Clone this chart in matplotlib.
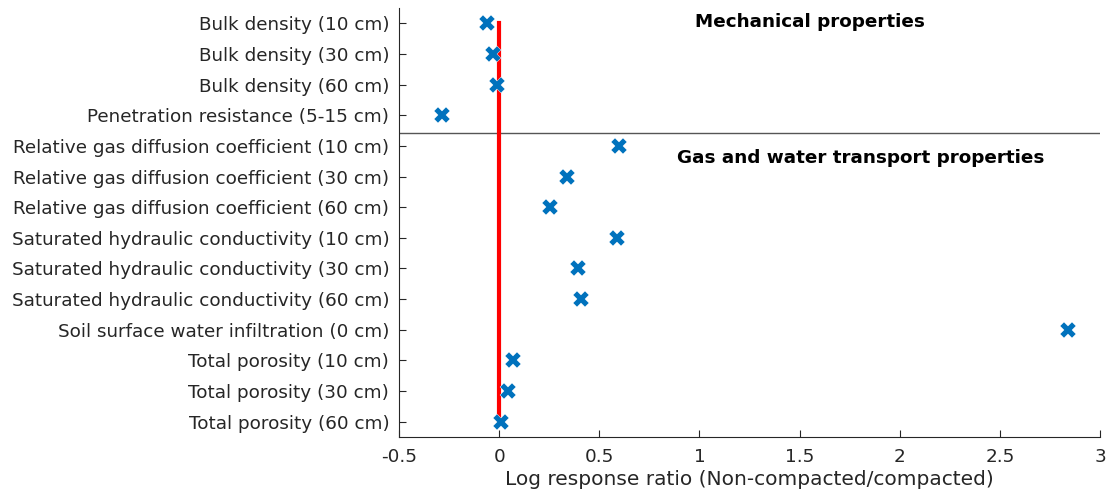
import matplotlib

matplotlib.use("Agg")
import matplotlib.pyplot as plt

# --------------------------------------------------------------------- #
# Data
# --------------------------------------------------------------------- #
labels = [
    "Bulk density (10 cm)",
    "Bulk density (30 cm)",
    "Bulk density (60 cm)",
    "Penetration resistance (5-15 cm)",
    "Relative gas diffusion coefficient (10 cm)",
    "Relative gas diffusion coefficient (30 cm)",
    "Relative gas diffusion coefficient (60 cm)",
    "Saturated hydraulic conductivity (10 cm)",
    "Saturated hydraulic conductivity (30 cm)",
    "Saturated hydraulic conductivity (60 cm)",
    "Soil surface water infiltration (0 cm)",
    "Total porosity (10 cm)",
    "Total porosity (30 cm)",
    "Total porosity (60 cm)",
]
log_ratio = [-0.06, -0.03, -0.01, -0.285,
             0.60, 0.34, 0.255,
             0.59, 0.395, 0.41,
             2.84,
             0.068, 0.042, 0.01]
group_titles = ["Mechanical properties", "Gas and water transport properties"]

TEXT = "#262626"
BLUE = "#0072BD"

fig = plt.figure(figsize=(11.06, 4.94), dpi=100)
ax = fig.add_axes([399 / 1106, 1 - 437 / 494, 701 / 1106, 429 / 494])

pos = list(range(1, len(labels) + 1))

# zero reference line
ax.plot([0, 0], [pos[0], pos[-1]], color="red", lw=3, zorder=2)
# group separator
ax.axhline(4.58, color="#555555", lw=1, zorder=1)

ax.plot(log_ratio, pos, "X", color=BLUE, ms=11, mec="white", mew=0.3,
        ls="none", zorder=3)

ax.text(0.978, 0.97, group_titles[0], fontsize=13.2, fontweight="bold",
        ha="left", va="center", color="black")
ax.text(0.888, 5.38, group_titles[1], fontsize=13.2, fontweight="bold",
        ha="left", va="center", color="black")

ax.set_xlim(-0.5, 3)
ax.set_ylim(14.5, 0.5)
ax.set_yticks(pos)
ax.set_yticklabels(labels)
ax.set_xticks([-0.5, 0, 0.5, 1, 1.5, 2, 2.5, 3])
ax.set_xticklabels(["-0.5", "0", "0.5", "1", "1.5", "2", "2.5", "3"])
ax.set_xlabel("Log response ratio (Non-compacted/compacted)",
              fontsize=14.5, color=TEXT, labelpad=3)

for s in ("top", "right"):
    ax.spines[s].set_visible(False)
for s in ("left", "bottom"):
    ax.spines[s].set_color(TEXT)
    ax.spines[s].set_linewidth(0.8)
ax.tick_params(direction="in", length=5, width=0.8, colors=TEXT,
               labelsize=13.2)
ax.tick_params(axis="x", pad=8)
ax.tick_params(axis="y", pad=7)

fig.savefig("out.png", dpi=100)
